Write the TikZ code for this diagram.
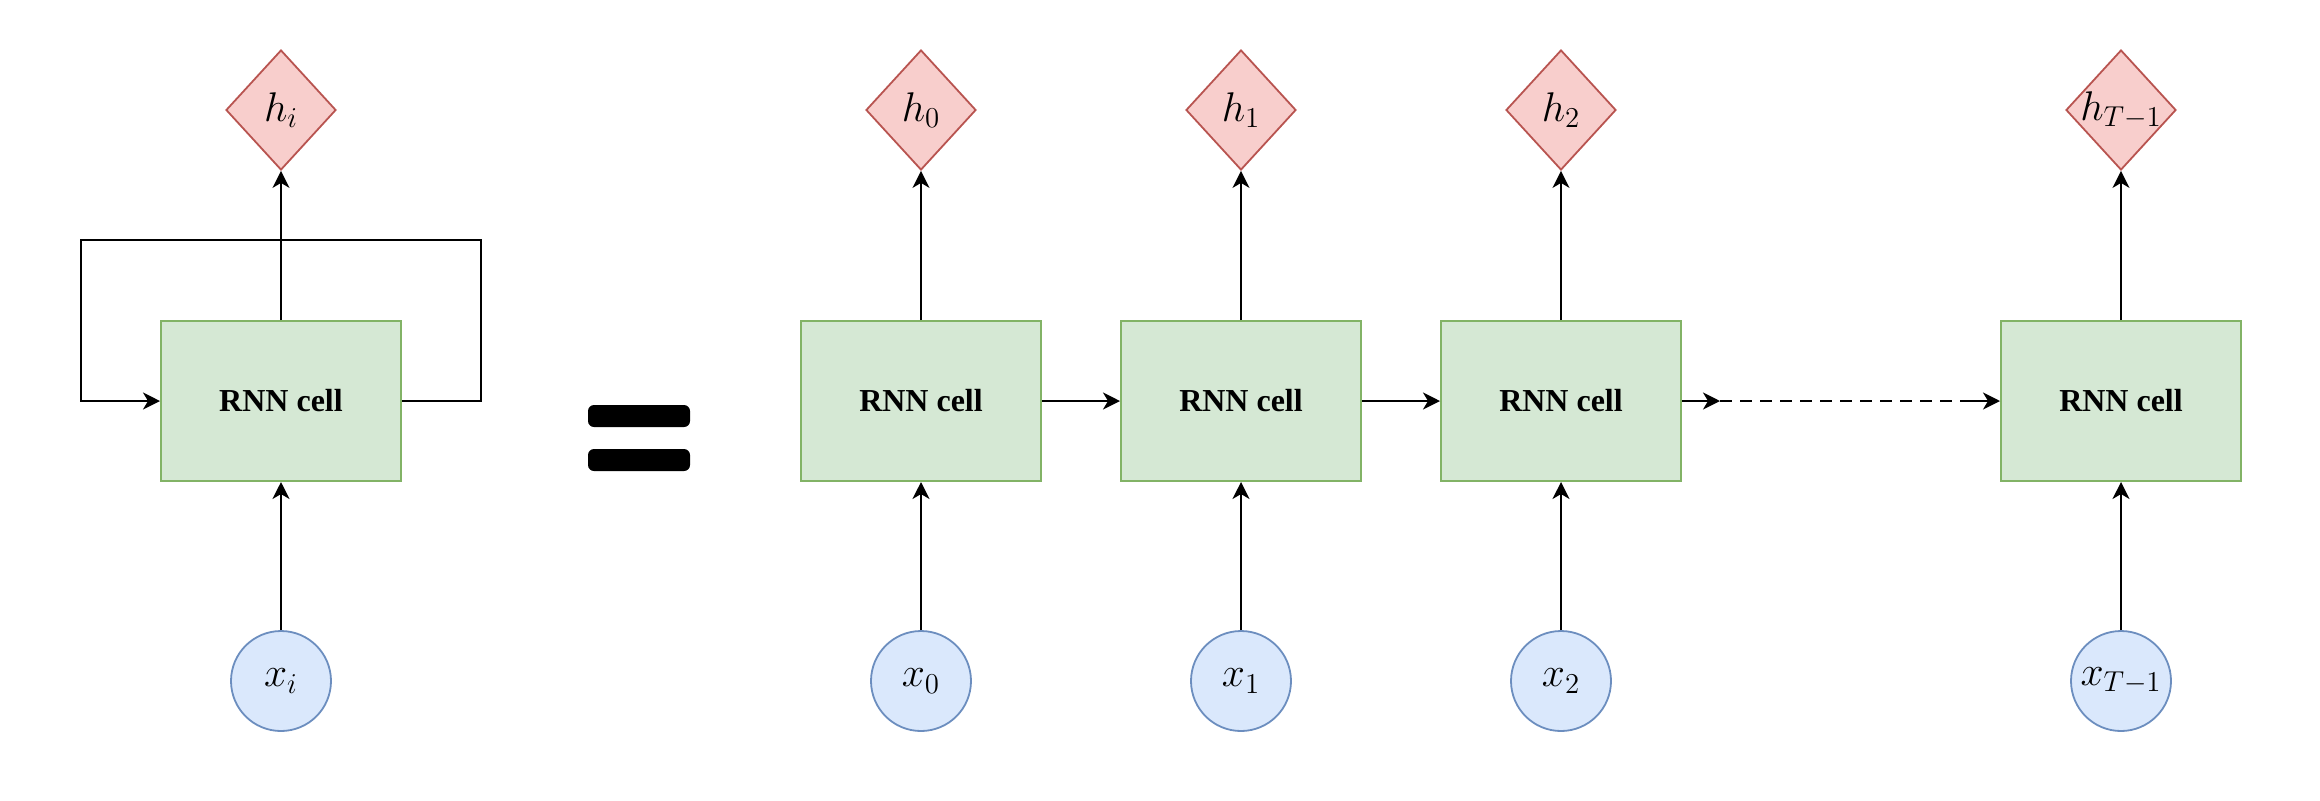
\documentclass[tikz,border=0pt]{standalone}
\usepackage{fontspec}
\usetikzlibrary{shapes.geometric,arrows.meta}
\newfontfamily\cellfont{Liberation Serif}
\definecolor{cellfill}{HTML}{D5E8D4}
\definecolor{celldraw}{HTML}{82B366}
\definecolor{hfill}{HTML}{F8CECC}
\definecolor{hdraw}{HTML}{B85450}
\definecolor{xfill}{HTML}{DAE8FC}
\definecolor{xdraw}{HTML}{6C8EBF}
\tikzset{
  cellbox/.style={draw=celldraw, fill=cellfill, line width=1pt, minimum width=120pt, minimum height=80pt, inner sep=0pt, font=\cellfont\bfseries\fontsize{16}{19}\selectfont},
  hnode/.style={diamond, draw=hdraw, fill=hfill, line width=0.9pt, minimum width=55pt, minimum height=60pt, inner sep=0pt, font=\fontsize{20.74}{24}\selectfont},
  xnode/.style={circle, draw=xdraw, fill=xfill, line width=0.9pt, minimum size=50pt, inner sep=0pt, font=\fontsize{20.74}{24}\selectfont},
  arr/.style={line width=1pt, -{Stealth[length=8.5pt, width=8.5pt, inset=2.5pt]}},
  conn/.style={line width=1pt},
  eqbar/.style={fill=black, rounded corners=3pt, minimum width=51pt, minimum height=11pt, inner sep=0pt}
}
\begin{document}
\begin{tikzpicture}[x=0.5pt, y=-0.5pt]
\useasboundingbox (0,0) rectangle (2320,800);
% left folded cell
\node[cellbox] (c) at (281,401) {RNN cell};
\node[hnode] (h) at (281,110) {\makebox[0pt]{$h_i$}};
\node[xnode] (x) at (281,681) {\makebox[0pt]{$x_i$}};
\draw[arr] (c.north) -- (h.south);
\draw[arr] (x.north) -- (c.south);
\coordinate (l1) at (481,401);
\coordinate (l2) at (481,240);
\coordinate (l3) at (81,240);
\coordinate (l4) at (81,401);
\draw[arr] (c.east) -- (l1) -- (l2) -- (l3) -- (l4) -- (c.west);
% equal sign
\node[eqbar] (eqa) at (639,416) {};
\node[eqbar] (eqb) at (639,460) {};
% unrolled
\node[cellbox] (c0) at (921,401) {RNN cell};
\node[cellbox] (c1) at (1241,401) {RNN cell};
\node[cellbox] (c2) at (1561,401) {RNN cell};
\node[cellbox] (c3) at (2121,401) {RNN cell};
\node[hnode] (h0) at (921,110) {\makebox[0pt]{$h_0$}};
\node[hnode] (h1) at (1241,110) {\makebox[0pt]{$h_1$}};
\node[hnode] (h2) at (1561,110) {\makebox[0pt]{$h_2$}};
\node[hnode] (h3) at (2121,110) {\makebox[0pt]{$h_{T-1}$}};
\node[xnode] (x0) at (921,681) {\makebox[0pt]{$x_0$}};
\node[xnode] (x1) at (1241,681) {\makebox[0pt]{$x_1$}};
\node[xnode] (x2) at (1561,681) {\makebox[0pt]{$x_2$}};
\node[xnode] (x3) at (2121,681) {\makebox[0pt]{$x_{T-1}$}};
\foreach \i in {0,1,2,3}{
  \draw[arr] (c\i.north) -- (h\i.south);
  \draw[arr] (x\i.north) -- (c\i.south);
}
\draw[arr] (c0.east) -- (c1.west);
\draw[arr] (c1.east) -- (c2.west);
\coordinate (d1) at (1720,401);
\coordinate (d2) at (1962,401);
\draw[arr] (c2.east) -- (d1);
\draw[conn, dashed, dash pattern=on 6pt off 4pt] (d1) -- (d2);
\draw[arr] (d2) -- (c3.west);
\end{tikzpicture}
\end{document}
